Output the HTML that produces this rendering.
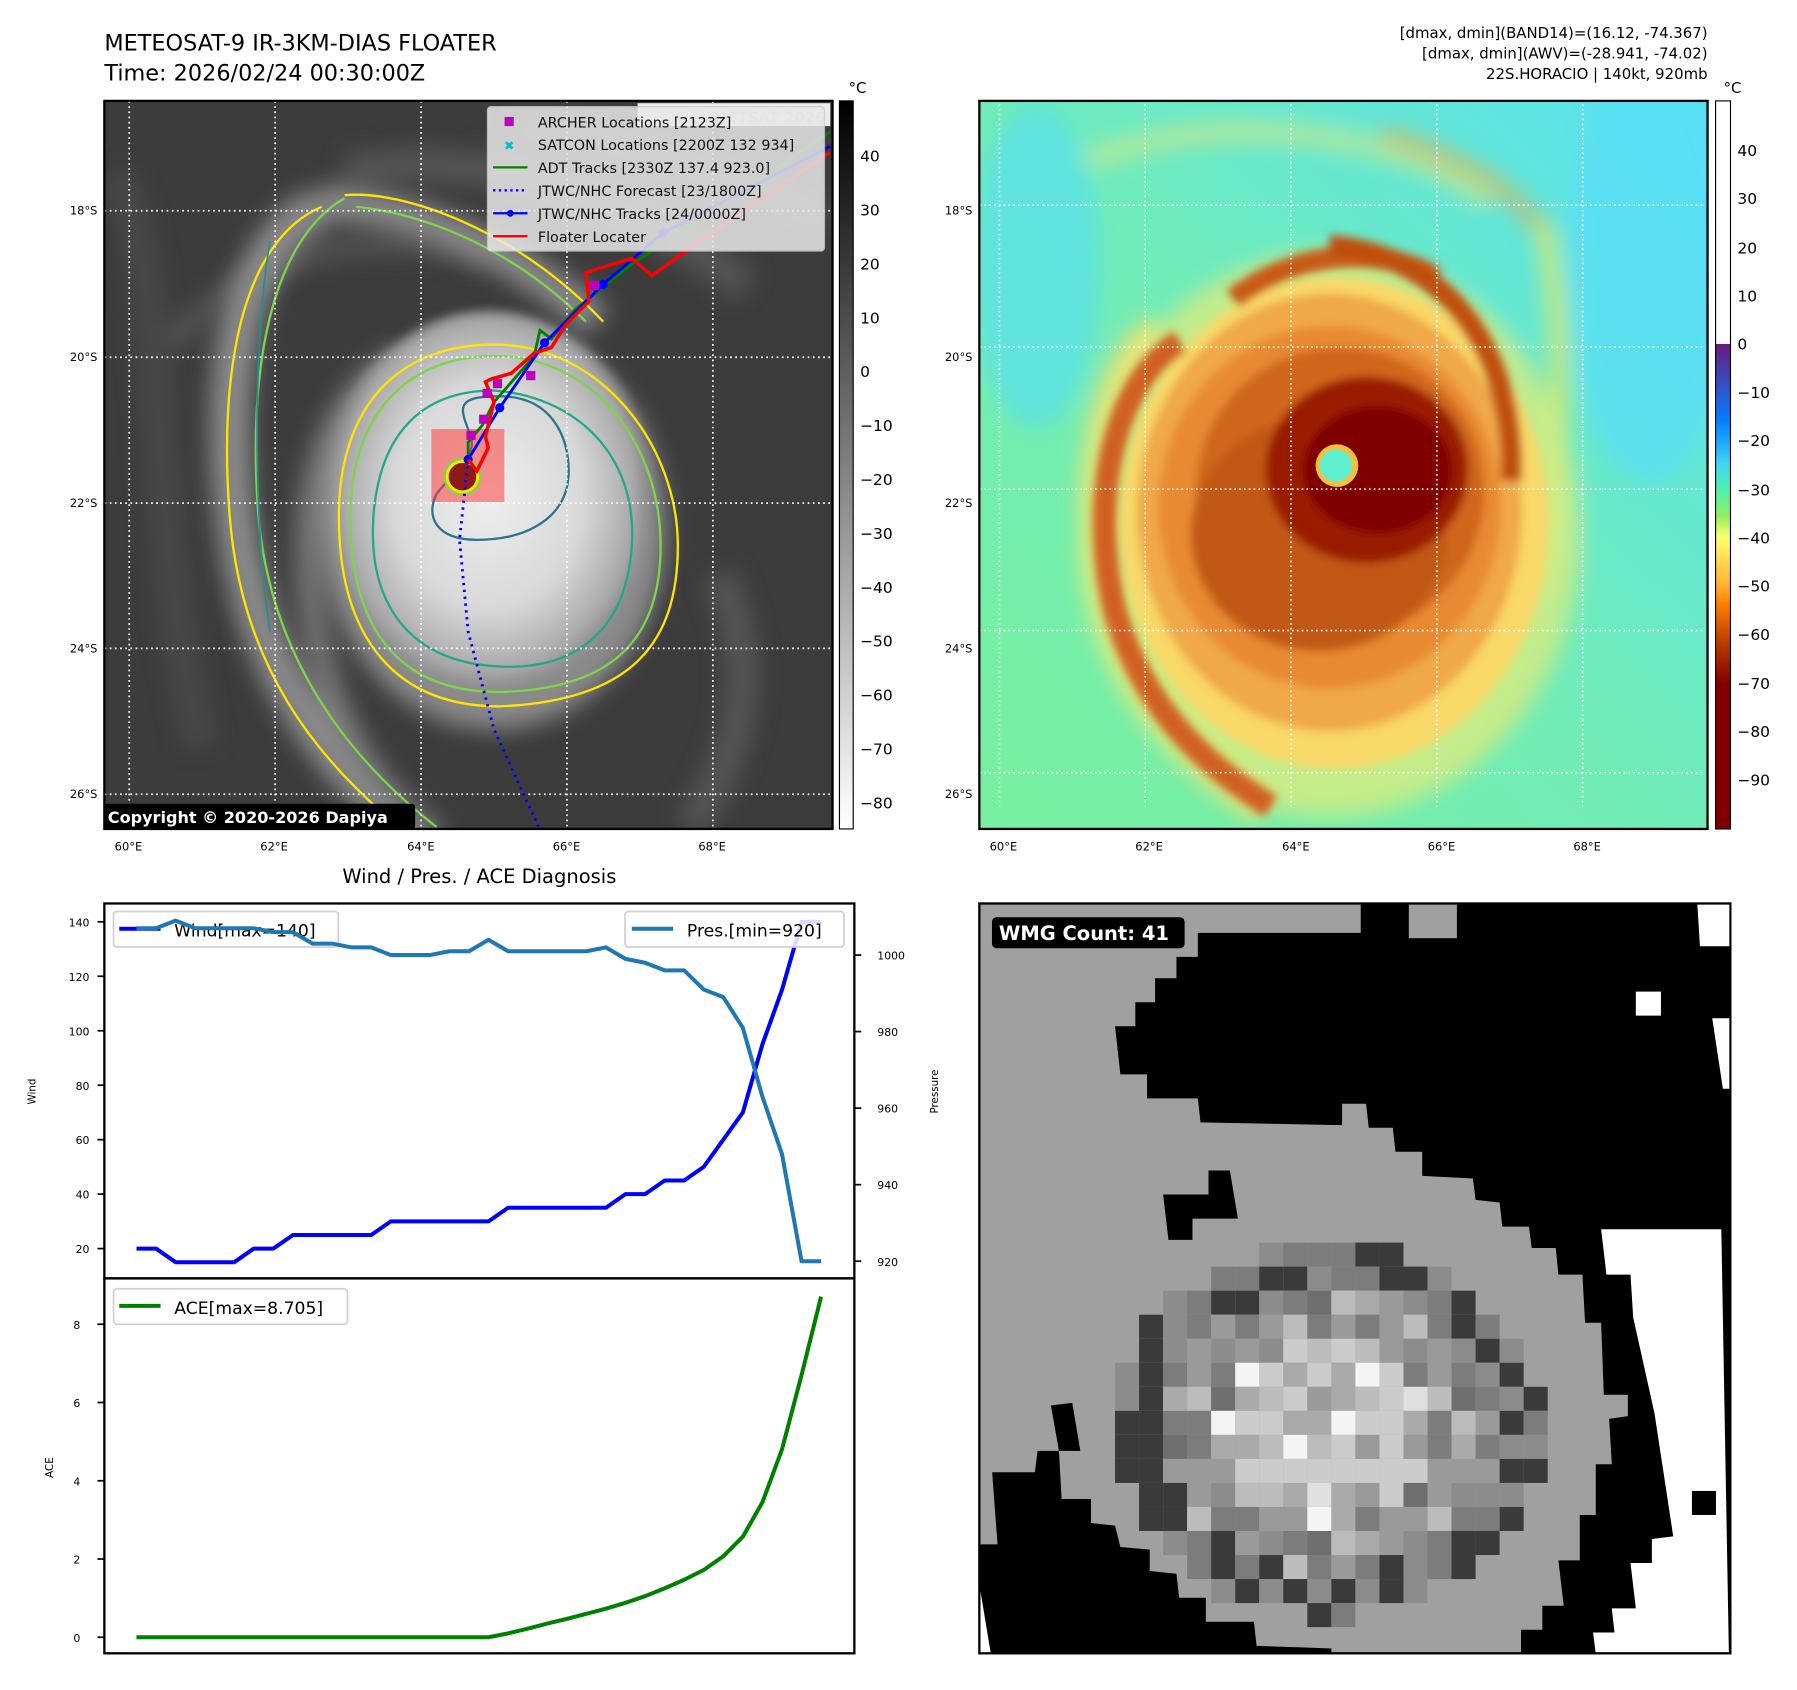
<!DOCTYPE html>
<html><head><meta charset="utf-8"><style>
html,body{margin:0;padding:0;background:#fff;}
svg{display:block;font-family:"DejaVu Sans","Liberation Sans",sans-serif;}
</style></head><body>
<svg id="fig" width="1797" height="1690" viewBox="0 0 1567 1474" preserveAspectRatio="none" xmlns="http://www.w3.org/2000/svg">
<defs>
<clipPath id="cL"><rect x="91" y="88" width="635" height="635"/></clipPath>
<clipPath id="cR"><rect x="854" y="88" width="635" height="635"/></clipPath>
<clipPath id="cB"><rect x="854" y="788" width="655" height="654"/></clipPath>
<filter id="bl8"><feGaussianBlur stdDeviation="8"/></filter>
<filter id="bl20"><feGaussianBlur stdDeviation="20"/></filter>
<filter id="bl4"><feGaussianBlur stdDeviation="4"/></filter>
<radialGradient id="cloud" cx="0.5" cy="0.45" r="0.5">
<stop offset="0" stop-color="#eeeeee"/><stop offset="0.55" stop-color="#d8d8d8"/><stop offset="0.85" stop-color="#a8a8a8"/><stop offset="1" stop-color="#808080" stop-opacity="0"/></radialGradient>
<linearGradient id="gcb" x1="0" y1="0" x2="0" y2="1"><stop offset="0" stop-color="#000"/><stop offset="1" stop-color="#fff"/></linearGradient>
<linearGradient id="ccb" x1="0" y1="0" x2="0" y2="1">
<stop offset="0" stop-color="#fff"/><stop offset="0.334" stop-color="#fff"/><stop offset="0.334" stop-color="#6a1a7a"/>
<stop offset="0.40" stop-color="#2a5ad0"/><stop offset="0.44" stop-color="#0080ff"/><stop offset="0.50" stop-color="#40d8f0"/>
<stop offset="0.534" stop-color="#50f0b0"/><stop offset="0.57" stop-color="#90f060"/><stop offset="0.6" stop-color="#ffff70"/>
<stop offset="0.666" stop-color="#ffb030"/><stop offset="0.69" stop-color="#ff8000"/><stop offset="0.74" stop-color="#c04000"/>
<stop offset="0.8" stop-color="#800000"/><stop offset="1" stop-color="#800000"/></linearGradient>
<linearGradient id="rbg" x1="0" y1="1" x2="1" y2="0"><stop offset="0" stop-color="#78f0a0"/><stop offset="0.5" stop-color="#70ecb8"/><stop offset="1" stop-color="#58e2f2"/></linearGradient>
</defs>

<text x="91" y="44" font-size="19.5">METEOSAT-9 IR-3KM-DIAS FLOATER</text>
<text x="91" y="70" font-size="19.5">Time: 2026/02/24 00:30:00Z</text>
<g font-size="13" text-anchor="end">
<text x="1489" y="33">[dmax, dmin](BAND14)=(16.12, -74.367)</text>
<text x="1489" y="51">[dmax, dmin](AWV)=(-28.941, -74.02)</text>
<text x="1489" y="69">22S.HORACIO | 140kt, 920mb</text>
</g>

<g clip-path="url(#cL)">
<rect x="91" y="88" width="635" height="635" fill="#3c3c3c"/>
<g transform="scale(0.5009)">
<g filter="url(#bl20)" opacity="0.8">
<path d="M600,300 C850,250 1100,350 1300,500" stroke="#5a5a5a" stroke-width="60" fill="none"/>
<path d="M900,220 C1100,230 1300,330 1440,380" stroke="#555" stroke-width="50" fill="none"/>
<path d="M300,600 C420,450 650,380 850,450" stroke="#585858" stroke-width="40" fill="none"/>
<path d="M1250,1000 C1320,1150 1300,1300 1200,1440" stroke="#5a5a5a" stroke-width="60" fill="none"/>
<path d="M200,300 C300,500 250,900 350,1300" stroke="#4c4c4c" stroke-width="60" fill="none"/>
</g>
<g filter="url(#bl20)">
<path d="M560,360 C420,420 380,650 410,900 C440,1150 560,1330 740,1460" stroke="#8a8a8a" stroke-width="70" fill="none"/>
<path d="M560,350 C700,360 880,420 1040,560" stroke="#888" stroke-width="60" fill="none"/>
<path d="M700,620 C550,700 500,900 560,1150 C600,1300 680,1400 760,1460" stroke="#7a7a7a" stroke-width="40" fill="none"/>
<ellipse cx="860" cy="920" rx="300" ry="350" fill="#8a8a8a"/>
</g>
<ellipse cx="850" cy="900" rx="300" ry="360" fill="url(#cloud)" filter="url(#bl8)"/>
<g fill="none" stroke-width="4">
<path d="M560,360 C420,420 380,650 400,900 C420,1150 540,1320 720,1460" stroke="#ffe600"/>
<path d="M600,345 C470,420 430,650 450,900 C470,1120 580,1300 760,1440" stroke="#7fd34e"/>
<path d="M600,340 C700,330 900,400 1050,560" stroke="#ffe600"/>
<path d="M620,360 C720,370 880,420 1020,560" stroke="#7fd34e"/>
<path d="M470,420 C440,600 440,900 470,1100" stroke="#21908d" stroke-width="3"/>
<path d="M860,600 C1050,600 1180,780 1180,950 C1180,1120 1100,1220 870,1230 C680,1230 590,1100 590,900 C590,700 700,600 860,600 Z" stroke="#ffe600"/>
<path d="M860,620 C1040,620 1150,780 1150,950 C1150,1110 1070,1200 870,1205 C690,1205 610,1090 610,900 C610,720 710,620 860,620 Z" stroke="#7fd34e"/>
<path d="M860,680 C1000,690 1110,790 1100,950 C1090,1100 1000,1170 860,1160 C720,1150 640,1060 650,900 C660,760 730,680 860,680 Z" stroke="#22a884"/>
<path d="M870,690 C960,690 990,760 990,820 C990,900 920,940 830,940 C760,940 740,900 760,860 C790,820 830,800 820,760 C800,710 790,690 870,690 Z" stroke="#2c728e"/>
</g>
<line x1="225" y1="176" x2="225" y2="1445" stroke="#fff" stroke-width="3" stroke-dasharray="3,6"/>
<line x1="479" y1="176" x2="479" y2="1445" stroke="#fff" stroke-width="3" stroke-dasharray="3,6"/>
<line x1="733" y1="176" x2="733" y2="1445" stroke="#fff" stroke-width="3" stroke-dasharray="3,6"/>
<line x1="987" y1="176" x2="987" y2="1445" stroke="#fff" stroke-width="3" stroke-dasharray="3,6"/>
<line x1="1241" y1="176" x2="1241" y2="1445" stroke="#fff" stroke-width="3" stroke-dasharray="3,6"/>
<line x1="182" y1="367" x2="1450" y2="367" stroke="#fff" stroke-width="3" stroke-dasharray="3,6"/>
<line x1="182" y1="622" x2="1450" y2="622" stroke="#fff" stroke-width="3" stroke-dasharray="3,6"/>
<line x1="182" y1="876" x2="1450" y2="876" stroke="#fff" stroke-width="3" stroke-dasharray="3,6"/>
<line x1="182" y1="1129" x2="1450" y2="1129" stroke="#fff" stroke-width="3" stroke-dasharray="3,6"/>
<line x1="182" y1="1383" x2="1450" y2="1383" stroke="#fff" stroke-width="3" stroke-dasharray="3,6"/>
<rect x="751" y="747" width="127" height="127" fill="#ff3030" opacity="0.5"/>
<circle cx="805" cy="830" r="33" fill="#7fd34e"/><circle cx="805" cy="830" r="29" fill="#ffe600"/><circle cx="805" cy="830" r="24" fill="#8b1a1a"/>
<path d="M815,800 L800,940 L815,1100 L860,1270 L940,1445" stroke="#0000ff" stroke-width="5" stroke-dasharray="4,8" fill="none"/>
<path d="M815,800 L815,770 L840,740 L860,700 L930,620 L940,575 L960,590 L1000,540 L1100,460 L1445,230" stroke="#008000" stroke-width="5" fill="none"/>
<path d="M815,800 L870,710 L948,597 L1050,495 L1155,405 L1445,255" stroke="#0000ff" stroke-width="5" fill="none"/>
<g fill="#0000ff"><circle cx="815" cy="800" r="8"/><circle cx="870" cy="710" r="8"/><circle cx="948" cy="597" r="8"/><circle cx="1050" cy="495" r="8"/><circle cx="1155" cy="405" r="8"/></g>
<path d="M815,800 L830,820 L850,780 L845,760 L860,700 L845,665 L855,660 L890,650 L930,615 L960,605 L985,565 L1025,525 L1020,475 L1050,465 L1100,450 L1135,480 L1190,440 L1445,265" stroke="#ff0000" stroke-width="6" fill="none"/>
<g fill="#c000c0"><rect x="812" y="750" width="16" height="16"/><rect x="834" y="722" width="16" height="16"/><rect x="840" y="677" width="16" height="16"/><rect x="858" y="660" width="16" height="16"/><rect x="916" y="646" width="16" height="16"/><rect x="1027" y="489" width="16" height="16"/></g>
</g>
<rect x="556" y="90" width="168" height="20" fill="#fff" opacity="0.9"/>
<text x="720" y="107" font-size="13" font-weight="bold" fill="#ccc" text-anchor="end">© EUMETSAT 2026</text>
<g>
<rect x="425" y="93" width="294" height="126" rx="3" fill="#e8e8e8" opacity="0.85" stroke="#ccc"/>
<rect x="440" y="102" width="8" height="8" fill="#c000c0"/>
<text x="444" y="131" font-size="11" fill="#00c0c0" text-anchor="middle" font-weight="bold">✖</text>
<line x1="430" y1="146" x2="460" y2="146" stroke="#008000" stroke-width="2"/>
<line x1="430" y1="166" x2="460" y2="166" stroke="#0000ff" stroke-width="2" stroke-dasharray="2,3"/>
<line x1="430" y1="186" x2="460" y2="186" stroke="#0000ff" stroke-width="2"/><circle cx="445" cy="186" r="3" fill="#0000ff"/>
<line x1="430" y1="206" x2="460" y2="206" stroke="#ff0000" stroke-width="2"/>
<g font-size="12.5" fill="#111">
<text x="469" y="111">ARCHER Locations [2123Z]</text>
<text x="469" y="131">SATCON Locations [2200Z 132 934]</text>
<text x="469" y="151">ADT Tracks [2330Z 137.4 923.0]</text>
<text x="469" y="171">JTWC/NHC Forecast [23/1800Z]</text>
<text x="469" y="191">JTWC/NHC Tracks [24/0000Z]</text>
<text x="469" y="211">Floater Locater</text>
</g></g>
<rect x="89" y="701" width="273" height="22" rx="3" fill="#000"/>
<text x="94" y="718" font-size="14" font-weight="bold" fill="#fff">Copyright © 2020-2026 Dapiya</text>
</g>
<rect x="91" y="88" width="635" height="635" fill="none" stroke="#000" stroke-width="2"/>
<g font-size="10" fill="#000">
<g text-anchor="end"><text x="85" y="187">18°S</text><text x="85" y="315">20°S</text><text x="85" y="442">22°S</text><text x="85" y="569">24°S</text><text x="85" y="696">26°S</text></g>
<g text-anchor="middle"><text x="112" y="742">60°E</text><text x="239" y="742">62°E</text><text x="367" y="742">64°E</text><text x="494" y="742">66°E</text><text x="621" y="742">68°E</text></g>
</g>
<rect x="732" y="88" width="12" height="635" fill="url(#gcb)" stroke="#000" stroke-width="1"/>
<text x="740" y="81" font-size="13">°C</text>
<g font-size="13.5">
<text x="750" y="141">40</text><text x="750" y="188">30</text><text x="750" y="235">20</text><text x="750" y="282">10</text><text x="750" y="329">0</text><text x="750" y="376">−10</text><text x="750" y="423">−20</text><text x="750" y="470">−30</text><text x="750" y="517">−40</text><text x="750" y="564">−50</text><text x="750" y="611">−60</text><text x="750" y="658">−70</text><text x="750" y="705">−80</text>
</g>

<g clip-path="url(#cR)">
<rect x="854" y="88" width="635" height="635" fill="url(#rbg)"/>
<g transform="translate(833.3,0) scale(0.4657)">
<g filter="url(#bl20)">
<ellipse cx="150" cy="500" rx="120" ry="300" fill="#5ae0f0" opacity="0.7"/>
<ellipse cx="1300" cy="500" rx="150" ry="400" fill="#58ddf5" opacity="0.8"/>
<path d="M250,300 C500,200 850,250 1000,380" stroke="#d8e880" stroke-width="40" fill="none" opacity="0.6"/>
<path d="M800,250 C950,300 1050,350 1110,450" stroke="#e0b050" stroke-width="30" fill="none" opacity="0.7"/>
<path d="M1100,420 C1130,550 1150,800 1100,1100" stroke="#d8e870" stroke-width="30" fill="none"/>
<path d="M380,620 C270,720 240,950 290,1150 C340,1320 450,1430 580,1510" stroke="#f0e070" stroke-width="70" fill="none"/>
<ellipse cx="700" cy="1000" rx="470" ry="530" fill="#d8ec80" opacity="0.8"/>
</g>
<g filter="url(#bl8)">
<ellipse cx="710" cy="980" rx="400" ry="460" fill="#f8d868"/>
<path d="M420,640 C290,720 250,950 300,1150 C350,1320 460,1430 590,1510" stroke="#d06020" stroke-width="45" fill="none"/>
<path d="M520,560 C620,480 780,450 900,520" stroke="#c85a18" stroke-width="40" fill="none"/>
<ellipse cx="700" cy="960" rx="360" ry="410" fill="#f0a848"/>
<ellipse cx="700" cy="950" rx="320" ry="340" fill="#e88a30"/>
<path d="M700,460 C950,480 1050,700 1040,900" stroke="#c05010" stroke-width="40" fill="none"/>
<ellipse cx="720" cy="920" rx="270" ry="270" fill="#d0661a"/>
<ellipse cx="680" cy="1000" rx="240" ry="220" fill="#c25812"/>
<ellipse cx="770" cy="880" rx="190" ry="175" fill="#9a1a00"/>
<ellipse cx="790" cy="880" rx="140" ry="120" fill="#800000"/>
</g>
<circle cx="714" cy="872" r="40" fill="#f0c040"/>
<circle cx="712" cy="872" r="30" fill="#60f0d0"/>
<line x1="82" y1="186" x2="82" y2="1510" stroke="#fff" stroke-width="3" stroke-dasharray="3,6"/>
<line x1="355" y1="186" x2="355" y2="1510" stroke="#fff" stroke-width="3" stroke-dasharray="3,6"/>
<line x1="628" y1="186" x2="628" y2="1510" stroke="#fff" stroke-width="3" stroke-dasharray="3,6"/>
<line x1="901" y1="186" x2="901" y2="1510" stroke="#fff" stroke-width="3" stroke-dasharray="3,6"/>
<line x1="1174" y1="186" x2="1174" y2="1510" stroke="#fff" stroke-width="3" stroke-dasharray="3,6"/>
<line x1="36" y1="384" x2="1400" y2="384" stroke="#fff" stroke-width="3" stroke-dasharray="3,6"/>
<line x1="36" y1="650" x2="1400" y2="650" stroke="#fff" stroke-width="3" stroke-dasharray="3,6"/>
<line x1="36" y1="916" x2="1400" y2="916" stroke="#fff" stroke-width="3" stroke-dasharray="3,6"/>
<line x1="36" y1="1181" x2="1400" y2="1181" stroke="#fff" stroke-width="3" stroke-dasharray="3,6"/>
<line x1="36" y1="1447" x2="1400" y2="1447" stroke="#fff" stroke-width="3" stroke-dasharray="3,6"/>
</g>
</g>
<rect x="854" y="88" width="635" height="635" fill="none" stroke="#000" stroke-width="2"/>
<g font-size="10" fill="#000">
<g text-anchor="end"><text x="848" y="187">18°S</text><text x="848" y="315">20°S</text><text x="848" y="442">22°S</text><text x="848" y="569">24°S</text><text x="848" y="696">26°S</text></g>
<g text-anchor="middle"><text x="875" y="742">60°E</text><text x="1002" y="742">62°E</text><text x="1130" y="742">64°E</text><text x="1257" y="742">66°E</text><text x="1384" y="742">68°E</text></g>
</g>
<rect x="1496" y="88" width="13" height="635" fill="url(#ccb)" stroke="#000" stroke-width="1"/>
<text x="1503" y="81" font-size="13">°C</text>
<g font-size="13.5">
<text x="1515" y="136">40</text><text x="1515" y="178">30</text><text x="1515" y="221">20</text><text x="1515" y="263">10</text><text x="1515" y="305">0</text><text x="1515" y="347">−10</text><text x="1515" y="389">−20</text><text x="1515" y="432">−30</text><text x="1515" y="474">−40</text><text x="1515" y="516">−50</text><text x="1515" y="558">−60</text><text x="1515" y="601">−70</text><text x="1515" y="643">−80</text><text x="1515" y="685">−90</text>
</g>

<g clip-path="url(#cB)">
<rect x="854" y="788" width="655" height="654" fill="#000"/>
<g transform="translate(854,788) scale(0.4658) translate(-36,-45)">
<path fill="#a0a0a0" d="M36,45 L750,45 L750,100 L445,100 L445,145 L405,145 L405,185 L365,185 L365,230 L328,230 L328,275 L290,275 L300,365 L350,365 L350,410 L445,410 L450,455 L715,460 L715,420 L760,420 L765,465 L810,465 L815,510 L865,510 L865,555 L960,560 L965,600 L1010,605 L1015,650 L1065,650 L1070,690 L1115,690 L1120,740 L1165,740 L1170,830 L1200,830 L1205,965 L1250,965 L1250,1005 L1215,1010 L1220,1095 L1190,1095 L1190,1190 L1160,1190 L1160,1275 L1120,1275 L1130,1360 L1090,1360 L1090,1405 L1050,1405 L1050,1450 L920,1450 L925,1490 L790,1495 L695,1485 L695,1440 L555,1435 L550,1390 L460,1390 L460,1345 L410,1345 L405,1300 L355,1295 L355,1255 L300,1250 L290,1210 L245,1205 L245,1160 L190,1160 L185,1070 L145,1070 L140,1110 L60,1110 L70,1245 L36,1245 Z"/>
<rect x="840" y="45" width="90" height="65" fill="#a0a0a0"/>
<path fill="#000" d="M380,590 L465,590 L465,545 L505,545 L520,635 L435,635 L435,675 L390,675 Z"/>
<path fill="#000" d="M170,985 L210,980 L225,1070 L185,1070 Z"/>
<path fill="#fff" d="M1200,655 L1425,655 L1440,1495 L1150,1495 L1145,1455 L1190,1450 L1185,1410 L1225,1410 L1220,1365 L1265,1365 L1255,1280 L1295,1280 L1295,1235 L1335,1230 L1300,1000 L1260,820 L1255,740 L1210,740 Z"/>
<rect x="1370" y="1145" width="45" height="45" fill="#000"/>
<path fill="#fff" d="M1380,45 L1442,45 L1442,125 L1385,125 Z"/>
<rect x="1265" y="210" width="47" height="45" fill="#fff"/>
<path fill="#fff" d="M1408,260 L1442,260 L1442,392 L1428,392 Z"/>
<path fill="#fff" d="M36,1320 L65,1495 L36,1495 Z"/>
<g id="wmgcells"></g>
</g>
<rect x="865" y="800" width="168" height="27" rx="4" fill="#000"/>
<text x="871" y="820" font-size="17" font-weight="bold" fill="#fff">WMG Count: 41</text>
</g>
<rect x="854" y="788" width="655" height="654" fill="none" stroke="#000" stroke-width="2"/>

<text x="418" y="770" font-size="17" text-anchor="middle">Wind / Pres. / ACE Diagnosis</text>
<g id="charts"></g>
<rect x="91" y="788" width="654" height="327" fill="none" stroke="#000" stroke-width="2"/>
<rect x="91" y="1115" width="654" height="327" fill="none" stroke="#000" stroke-width="2"/>
<text transform="translate(31,952) rotate(-90)" font-size="9" text-anchor="middle">Wind</text>
<text transform="translate(818,952) rotate(-90)" font-size="9" text-anchor="middle">Pressure</text>
<text transform="translate(46,1280) rotate(-90)" font-size="9" text-anchor="middle">ACE</text>
</svg>
<script>
const windValues = [20,20,15,15,15,15,20,20,25,25,25,25,25,30,30,30,30,30,30,35,35,35,35,35,35,40,40,45,45,50,60,70,95,115,140,140];
const presValues = [1007,1007,1009,1007,1007,1007,1007,1006,1006,1003,1003,1002,1002,1000,1000,1000,1001,1001,1004,1001,1001,1001,1001,1001,1002,999,998,996,996,991,989,981,963,948,920,920];
const aceValues = [0,0,0,0,0,0,0,0,0,0,0,0,0,0,0,0,0,0,0,0.1,0.22,0.35,0.47,0.6,0.73,0.88,1.05,1.25,1.47,1.72,2.07,2.57,3.45,4.8,6.7,8.705];
const windTicks = [20,40,60,80,100,120,140];
const presTicks = [920,940,960,980,1000];
const aceTicks = [0,2,4,6,8];

const NS='http://www.w3.org/2000/svg';
const root=document.getElementById('charts');
function xs(i){return 119+i*(716-119)/(windValues.length-1);}
function yWind(v){return 1089-(v-20)*47.5/20;}
function yPres(p){return 1100-(p-920)*267/80;}
function yAce(a){return 1428-a*34.125;}
function mk(tag,attrs,parent){const e=document.createElementNS(NS,tag);for(const k in attrs)e.setAttribute(k,attrs[k]);(parent||root).appendChild(e);return e;}

windTicks.forEach(t=>{
  const g=mk('g',{});
  
  
  mk('line',{x1:85,x2:91,y1:yWind(t),y2:yWind(t),stroke:'#000','stroke-width':1.5},g);
  const tx=mk('text',{x:78,y:yWind(t)+4,'font-size':9.5,'text-anchor':'end'},g);tx.textContent=t;
});
presTicks.forEach(t=>{
  const g=mk('g',{});
  
  
  mk('line',{x1:745,x2:751,y1:yPres(t),y2:yPres(t),stroke:'#000','stroke-width':1.5},g);
  const tx=mk('text',{x:765,y:yPres(t)+4,'font-size':9.5},g);tx.textContent=t;
});
aceTicks.forEach(t=>{
  const g=mk('g',{});
  
  
  mk('line',{x1:85,x2:91,y1:yAce(t),y2:yAce(t),stroke:'#000','stroke-width':1.5},g);
  const tx=mk('text',{x:70,y:yAce(t)+4,'font-size':9.5,'text-anchor':'end'},g);tx.textContent=t;
});

const wl=mk('g',{});


mk('rect',{x:99,y:795,width:196,height:31,rx:3,fill:'#fff',stroke:'#d0d0d0','stroke-width':1.5},wl);
mk('line',{x1:104,x2:140,y1:810,y2:810,stroke:'#0000ff','stroke-width':3.5},wl);
const wt=mk('text',{x:152,y:817,'font-size':15},wl);wt.textContent='Wind[max=140]';

const wp=mk('path',{d:windValues.map((v,i)=>(i?'L':'M')+xs(i)+','+yWind(v)).join(''),fill:'none',stroke:'#0000ff','stroke-width':3.5,'stroke-linejoin':'round'});


const pp=mk('path',{d:presValues.map((v,i)=>(i?'L':'M')+xs(i)+','+yPres(v)).join(''),fill:'none',stroke:'#1f77b4','stroke-width':3.5,'stroke-linejoin':'round'});



const pl=mk('g',{});


mk('rect',{x:545,y:795,width:191,height:31,rx:3,fill:'#fff','fill-opacity':0.85,stroke:'#d0d0d0','stroke-width':1.5},pl);
mk('line',{x1:551,x2:587,y1:810,y2:810,stroke:'#1f77b4','stroke-width':3.5},pl);
const pt=mk('text',{x:599,y:817,'font-size':15},pl);pt.textContent='Pres.[min=920]';

const ap=mk('path',{d:aceValues.map((v,i)=>(i?'L':'M')+xs(i)+','+yAce(v)).join(''),fill:'none',stroke:'#008000','stroke-width':3.5,'stroke-linejoin':'round'});


const al=mk('g',{});


mk('rect',{x:99,y:1124,width:204,height:31,rx:3,fill:'#fff',stroke:'#d0d0d0','stroke-width':1.5},al);
mk('line',{x1:104,x2:140,y1:1139,y2:1139,stroke:'#008000','stroke-width':3.5},al);
const at=mk('text',{x:152,y:1146,'font-size':15},al);at.textContent='ACE[max=8.705]';

const cg=document.getElementById('wmgcells');
const pal=['#3a3a3a','#6e6e6e','#7c7c7c','#8c8c8c','#9a9a9a','#aaaaaa','#bcbcbc','#cccccc','#e0e0e0','#f4f4f4'];
for(let r=0;r<16;r++){for(let c=0;c<18;c++){
  const x=290+c*45, y=680+r*45;
  const dx=(x+22-690)/400, dy=(y+22-1030)/350;
  const d=dx*dx+dy*dy;
  if(d>1) continue;
  const h=((r*7+c*13+r*c*3)%10);
  let idx;
  if(d<0.25) idx=4+(h%6); else if(d<0.6) idx=1+(h%6); else idx=(h%3===0)?0:1+(h%3);
  const e=document.createElementNS(NS,'rect');
  e.setAttribute('x',x);e.setAttribute('y',y);e.setAttribute('width',45);e.setAttribute('height',45);e.setAttribute('fill',pal[Math.min(idx,9)]);
  
  
  cg.appendChild(e);
}}
</script>
</body></html>
